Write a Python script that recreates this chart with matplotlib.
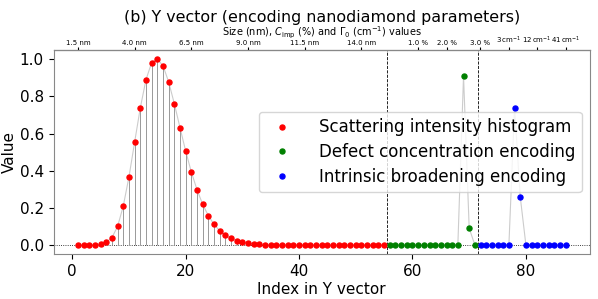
import numpy as np
import matplotlib
matplotlib.use("Agg")
import matplotlib.pyplot as plt

# --- data ---
# scattering intensity histogram, indices 1..55
hist_vals = [0.0, 0.0, 0.0, 0.0, 0.004, 0.015, 0.04, 0.10, 0.21, 0.366,
             0.553, 0.738, 0.889, 0.982, 1.0, 0.966, 0.878, 0.761, 0.632, 0.506,
             0.393, 0.298, 0.219, 0.158, 0.111, 0.077, 0.052, 0.036, 0.024, 0.016,
             0.010, 0.006, 0.004, 0.002, 0.001, 0.001, 0.0, 0.0, 0.0, 0.0,
             0.0, 0.0, 0.0, 0.0, 0.0, 0.0, 0.0, 0.0, 0.0, 0.0,
             0.0, 0.0, 0.0, 0.0, 0.0]
# defect concentration encoding, indices 56..71
defect_vals = [0.0] * 13 + [0.91, 0.09, 0.0]
# intrinsic broadening encoding, indices 72..87
broad_vals = [0.0] * 6 + [0.74, 0.26] + [0.0] * 8

top_tick_pos = [1, 11, 21, 31, 41, 51, 61, 66, 71.9, 77, 82, 87]
top_tick_labels = ["1.5 nm", "4.0 nm", "6.5 nm", "9.0 nm", "11.5 nm", "14.0 nm",
                   "1.0 %", "2.0 %", "3.0 %",
                   r"3$\,$cm$^{-1}$", r"12$\,$cm$^{-1}$", r"41$\,$cm$^{-1}$"]
separators = [55.5, 71.5]

n_hist = len(hist_vals)
n_def = len(defect_vals)
n_broad = len(broad_vals)
x_hist = np.arange(1, n_hist + 1)
x_def = np.arange(n_hist + 1, n_hist + n_def + 1)
x_broad = np.arange(n_hist + n_def + 1, n_hist + n_def + n_broad + 1)
x_all = np.concatenate([x_hist, x_def, x_broad])
y_all = np.array(hist_vals + defect_vals + broad_vals)

fig, ax = plt.subplots(figsize=(5.98, 2.99), dpi=100)
fig.subplots_adjust(left=0.0895, right=0.9866, top=0.833, bottom=0.1495)

ax.plot(x_all, y_all, color="#cccccc", lw=0.8, zorder=1)
ax.vlines(x_hist, 0, hist_vals, color="#999999", lw=0.7, zorder=1)
ax.axhline(0, color="k", ls=":", lw=0.6, zorder=0)
for s in separators:
    ax.axvline(s, color="k", ls="--", lw=0.6, zorder=0)

ax.plot(x_hist, hist_vals, "o", color="red", ms=3.6, ls="none",
        label="Scattering intensity histogram", zorder=3)
ax.plot(x_def, defect_vals, "o", color="green", ms=3.6, ls="none",
        label="Defect concentration encoding", zorder=3)
ax.plot(x_broad, broad_vals, "o", color="blue", ms=3.6, ls="none",
        label="Intrinsic broadening encoding", zorder=3)

ax.set_xlabel("Index in Y vector", fontsize=11, labelpad=2)
ax.set_ylabel("Value", fontsize=11, labelpad=2)
ax.tick_params(labelsize=11)
ax.set_title("(b) Y vector (encoding nanodiamond parameters)", fontsize=11.4,
             y=1.135, pad=0)

for sp in ax.spines.values():
    sp.set_color("#888888")

sec = ax.secondary_xaxis("top")
sec.set_xticks(top_tick_pos)
sec.set_xticklabels(top_tick_labels, fontsize=5)
sec.tick_params(length=2, pad=1)
sec.set_xlabel(r"Size (nm), $C_{\rm imp}$ (%) and $\Gamma_0$ (cm$^{-1}$) values",
               fontsize=7, labelpad=-1.5)

ax.legend(loc="center right", fontsize=12, handletextpad=1.2, labelspacing=0.4)

fig.savefig("out.png", dpi=100)
